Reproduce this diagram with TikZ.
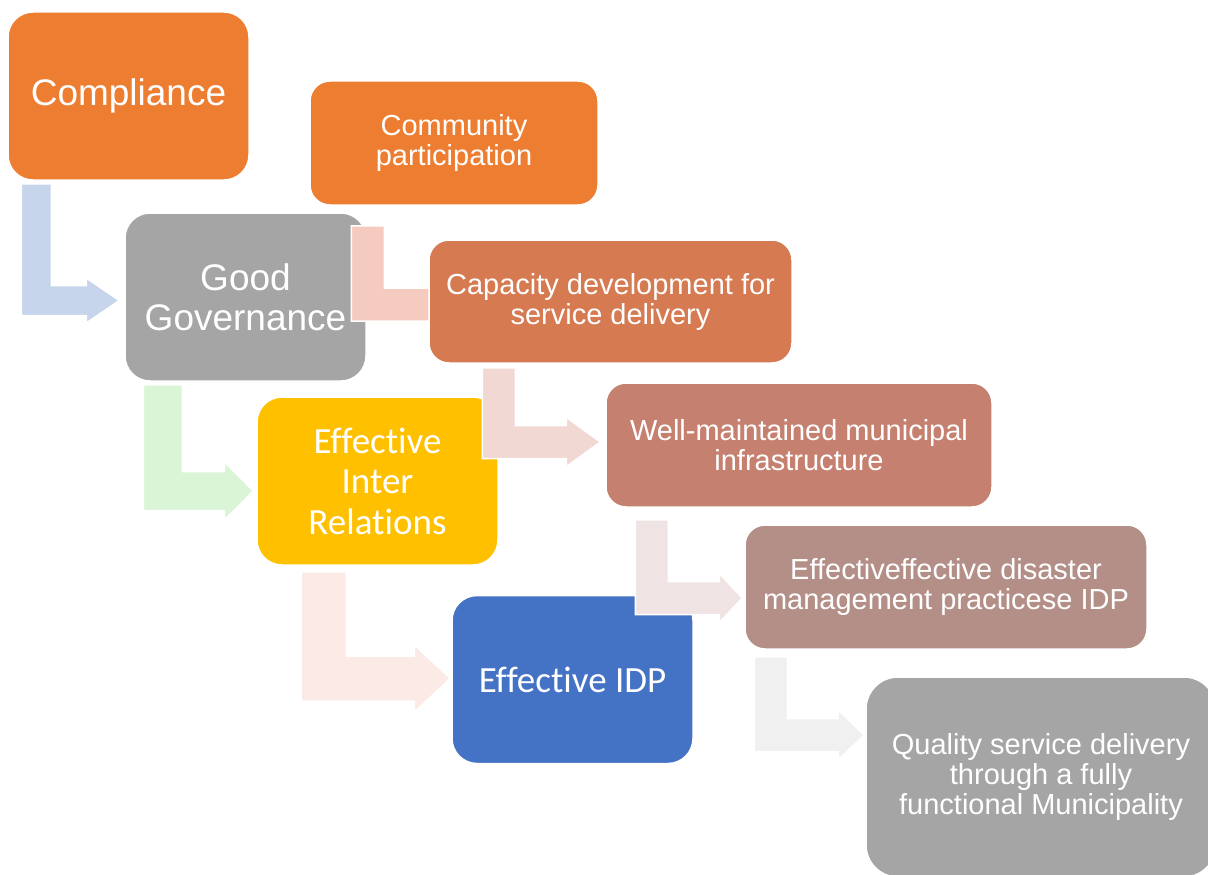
\documentclass[tikz,border=0pt]{standalone}
\usepackage{fontspec}
\setmainfont{Liberation Sans}
\newfontfamily\carlito[Ligatures=NoCommon]{Carlito}
\usetikzlibrary{calc}

\pgfdeclarelayer{background}
\pgfdeclarelayer{foreground}
\pgfsetlayers{background,main,foreground}

\definecolor{orange}{HTML}{ED7D31}
\definecolor{grey}{HTML}{A5A5A5}
\definecolor{gold}{HTML}{FFC000}
\definecolor{blue}{HTML}{4472C4}
\definecolor{clay}{HTML}{D67A52}
\definecolor{rose}{HTML}{C5806F}
\definecolor{mauve}{HTML}{B48F88}
\definecolor{arrA}{HTML}{C6D5EB}
\definecolor{arrB}{HTML}{F5CBBF}
\definecolor{arrC}{HTML}{F2D8D3}
\definecolor{arrD}{HTML}{DAF5D6}
\definecolor{arrE}{HTML}{FBEAE6}
\definecolor{arrF}{HTML}{F0E3E3}
\definecolor{arrG}{HTML}{F0F0F0}

% bent block arrow: down out of one box, then across into the next
% #1 colour, #2 from, #3 to, #4 top left of the bar from #2.south west,
% #5 bar width, #6 tip from #3.west, #7 head length
\newcommand{\bendarrow}[7]{%
  \filldraw[fill=#1, draw=white, line width=1.5pt]
    let \p1=($(#2.south west)+(#4)$), \p2=($(#3.west)+(#6)$),
        \n1={#5/2}, \n2={0.75*#5}, \n3={#7} in
    (\x1,\y1) -- (\x1+2*\n1,\y1) -- (\x1+2*\n1,\y2+\n1) -- (\x2-\n3,\y2+\n1)
    -- (\x2-\n3,\y2+\n2) -- (\x2,\y2) -- (\x2-\n3,\y2-\n2) -- (\x2-\n3,\y2-\n1)
    -- (\x1,\y2-\n1) -- cycle;}

\begin{document}
\begin{tikzpicture}[x=1pt, y=-1pt]
  \tikzset{ box/.style={rounded corners=20pt, draw=white, line width=1.5pt, text=white,
      align=center, inner sep=0pt, font=\fontsize{29}{30}\selectfont},
    big/.style={box, rounded corners=25pt, minimum width=241pt, minimum height=168pt,
      font=\fontsize{37}{40}\selectfont},
  }
  \useasboundingbox (0,0) rectangle (1208,875);

  % left column
  \begin{pgfonlayer}{background}
    \node[big, fill=orange] (comp) at (128.5, 96) {Compliance};
    \node[big, fill=grey] (gov) at (245.5, 297) {Good\\Governance};
    \node[big, fill=gold, font=\carlito\fontsize{37}{40.5}\selectfont] (rel) at (377.5, 481) {Effective\\Inter\\Relations};
    \node[big, fill=blue, font=\carlito\fontsize{37}{40.5}\selectfont] (idp) at (572.5, 679.5) {Effective IDP};
  \end{pgfonlayer}

  % right column
  \begin{pgfonlayer}{foreground}
    \node[box, fill=orange, minimum width=288pt, minimum height=124pt] (comm) at (454, 143) {Community\\participation};
    \node[box, fill=clay, minimum width=363pt, minimum height=123pt] (cap) at (610.5, 301.5) {Capacity development for\\service delivery};
    \node[box, fill=rose, minimum width=386pt, minimum height=124pt] (infra) at (799, 445) {Well-maintained municipal\\infrastructure};
    \node[box, fill=mauve, minimum width=402pt, minimum height=124pt] (dis) at (946, 587) {Effectiveffective disaster\\management practicese IDP};
    \node[box, fill=grey, rounded corners=32pt, minimum width=350pt, minimum height=200pt] (qual) at (1041, 777) {Quality service delivery\\through a fully\\functional Municipality};
  \end{pgfonlayer}

  % the arrows between the boxes
  \bendarrow{arrA}{comp}{gov}{14,3}{30}{-5,3.5}{33}
  \bendarrow{arrB}{comm}{cap}{42,20}{33}{40,3}{35}
  \bendarrow{arrD}{gov}{rel}{19,3}{39}{-3,10}{29}
  \bendarrow{arrC}{cap}{infra}{54,4}{33}{-5,-3}{34}
  \bendarrow{arrE}{rel}{idp}{45,6}{45}{-1,-1}{36}
  \bendarrow{arrF}{infra}{dis}{30,12}{33}{-2,11}{23}
  \bendarrow{arrG}{dis}{qual}{10,7}{33}{-1,-42}{26}
\end{tikzpicture}
\end{document}
